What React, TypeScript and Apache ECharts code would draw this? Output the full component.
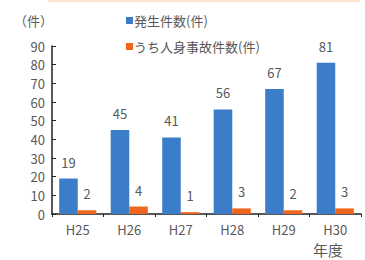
import React, { useEffect, useRef } from "react";
import * as echarts from "echarts";

const categories = ["H25", "H26", "H27", "H28", "H29", "H30"];
const totalCases = [19, 45, 41, 56, 67, 81];
const injuryCases = [2, 4, 1, 3, 2, 3];
const seriesNames = ["発生件数(件)", "うち人身事故件数(件)"];

const FONT = "'Noto Sans CJK JP', 'Noto Sans', sans-serif";
const TEXT = "#595959";

export default function App() {
  const ref = useRef<HTMLDivElement>(null);
  useEffect(() => {
    document.body.style.margin = "0";
    if (!ref.current) return;
    const chart = echarts.init(ref.current, undefined, { renderer: "svg" });
    chart.setOption({
      animation: false,
      backgroundColor: "#ffffff",
      textStyle: { fontFamily: FONT },
      grid: { left: 52, right: 4, top: 46, bottom: 46, containLabel: false },
      legend: {
        orient: "vertical",
        left: 121,
        top: 9,
        itemWidth: 7,
        itemHeight: 7,
        itemGap: 13,
        icon: "rect",
        textStyle: { fontFamily: FONT, fontSize: 13, color: TEXT, padding: [0, 0, 0, -4] },
        data: seriesNames,
      },
      xAxis: {
        type: "category",
        data: categories,
        axisLine: { lineStyle: { color: "#222", width: 1.5 } },
        axisTick: { show: true, length: 3, lineStyle: { color: "#222" } },
        axisLabel: { color: TEXT, fontSize: 13, margin: 9, fontFamily: FONT },
      },
      yAxis: {
        type: "value",
        min: 0,
        max: 90,
        interval: 10,
        splitLine: { show: false },
        axisLine: { show: true, lineStyle: { color: "#222", width: 1.5 } },
        axisTick: { show: true, inside: true, length: 4, lineStyle: { color: "#222" } },
        axisLabel: { color: TEXT, fontSize: 13, margin: 7, fontFamily: FONT },
      },
      series: [
        {
          name: seriesNames[0],
          type: "bar",
          data: totalCases,
          barGap: "0%",
          barCategoryGap: "28%",
          itemStyle: { color: "#3C7DC9" },
          label: { show: true, position: "top", distance: 10, color: TEXT, fontSize: 13, fontFamily: FONT },
        },
        {
          name: seriesNames[1],
          type: "bar",
          data: injuryCases,
          itemStyle: { color: "#F0651C" },
          label: { show: true, position: "top", distance: 10, color: TEXT, fontSize: 13, fontFamily: FONT },
        },
      ],
      graphic: [
        {
          type: "line",
          shape: { x1: 48, y1: 1, x2: 360, y2: 1 },
          style: { stroke: "#fbe3cc", lineWidth: 2 },
        },
        {
          type: "text",
          left: 14,
          top: 14,
          style: { text: "（件）", fill: TEXT, font: `13px ${FONT}` },
        },
        {
          type: "text",
          left: 313,
          top: 242,
          style: { text: "年度", fill: TEXT, font: `15px ${FONT}` },
        },
      ],
    });
    return () => chart.dispose();
  }, []);
  return <div ref={ref} style={{ width: 365, height: 260 }} />;
}
